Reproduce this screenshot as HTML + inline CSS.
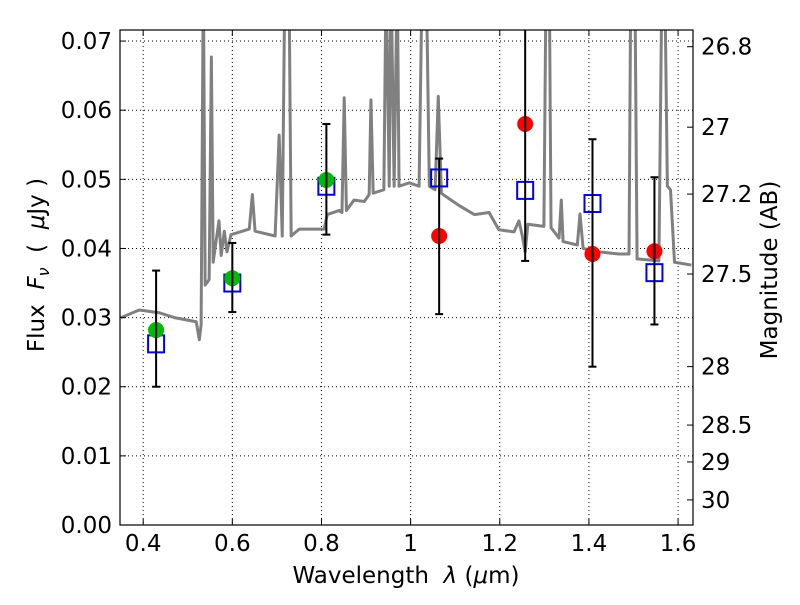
<!DOCTYPE html>
<html><head><meta charset="utf-8"><style>
body{margin:0;background:#fff}
svg text{font-family:"DejaVu Sans","Liberation Sans",sans-serif;fill:#000;white-space:pre}
</style></head><body>
<svg id="chart" width="800" height="600" xmlns="http://www.w3.org/2000/svg"></svg>
<script>
const specLam = [0.350,0.369,0.391,0.436,0.470,0.519,0.526,0.530,0.535,0.539,0.548,0.553,0.557,0.570,0.575,0.582,0.588,0.597,0.638,0.645,0.651,0.696,0.705,0.712,0.718,0.727,0.732,0.750,0.806,0.813,0.840,0.846,0.851,0.856,0.873,0.896,0.907,0.911,0.916,0.940,0.945,0.952,0.956,0.963,0.970,0.974,0.997,1.019,1.026,1.035,1.042,1.055,1.062,1.069,1.075,1.109,1.143,1.176,1.198,1.232,1.243,1.250,1.257,1.263,1.299,1.304,1.311,1.315,1.333,1.338,1.342,1.374,1.380,1.387,1.423,1.467,1.490,1.494,1.503,1.508,1.557,1.564,1.570,1.576,1.583,1.592,1.630];
const specFlux = [0.0300,0.0305,0.0311,0.0307,0.0300,0.0294,0.0268,0.0290,0.0800,0.0347,0.0355,0.0677,0.0380,0.0440,0.0390,0.0425,0.0395,0.0420,0.0428,0.0478,0.0425,0.0418,0.0564,0.0418,0.0800,0.0800,0.0418,0.0428,0.0428,0.0449,0.0455,0.0452,0.0618,0.0455,0.0470,0.0468,0.0478,0.0615,0.0480,0.0485,0.0800,0.0490,0.0800,0.0490,0.0800,0.0490,0.0495,0.0490,0.0800,0.0800,0.0490,0.0485,0.0620,0.0480,0.0477,0.0462,0.0449,0.0452,0.0427,0.0424,0.0440,0.0420,0.0395,0.0435,0.0432,0.0800,0.0800,0.0430,0.0415,0.0470,0.0410,0.0405,0.0450,0.0400,0.0395,0.0392,0.0392,0.0800,0.0800,0.0385,0.0382,0.0800,0.0800,0.0490,0.0485,0.0380,0.0376];
const obsLam = [0.429,0.600,0.811,1.064,1.257,1.408,1.547];
const obsFlux = [0.0282,0.0357,0.0499,0.0418,0.0580,0.0392,0.0396];
const errLo = [0.0200,0.0308,0.0420,0.0305,0.0382,0.0229,0.0290];
const errHi = [0.0368,0.0408,0.0580,0.0530,0.0780,0.0558,0.0503];
const obsColor = ["#00bb00","#00bb00","#00bb00","red","red","red","red"];
const modelFlux = [0.0262,0.0350,0.0490,0.0502,0.0484,0.0465,0.0365];
const xTicks = [0.4,0.6,0.8,1.0,1.2,1.4,1.6];
const xTickLabels = ["0.4","0.6","0.8","1","1.2","1.4","1.6"];
const yTicks = [0,0.01,0.02,0.03,0.04,0.05,0.06,0.07];
const yTickLabels = ["0.00","0.01","0.02","0.03","0.04","0.05","0.06","0.07"];
const magTicks = [26.8,27,27.2,27.5,28,28.5,29,30];
const magTickLabels = ["26.8","27","27.2","27.5","28","28.5","29","30"];

const L=120,R=693,T=30,B=525;
const xmin=0.348,xmax=1.6335,ymin=0,ymax=0.0716;
const sx=v=>L+(v-xmin)/(xmax-xmin)*(R-L);
const sy=v=>B-(v-ymin)/(ymax-ymin)*(B-T);
const magToFlux=m=>Math.pow(10,(23.9-m)/2.5);
const NS="http://www.w3.org/2000/svg";
const svg=document.getElementById('chart');
function mk(tag,attrs,parent){const e=document.createElementNS(NS,tag);for(const k in attrs)e.setAttribute(k,attrs[k]);(parent||svg).appendChild(e);return e;}
const defs=mk('defs',{});
const cp=mk('clipPath',{id:'clip'},defs);
mk('rect',{x:L,y:T,width:R-L,height:B-T},cp);

const grid=mk('g',{});


xTicks.forEach(v=>mk('line',{x1:sx(v),x2:sx(v),y1:T,y2:B,stroke:'#000','stroke-width':1,'stroke-dasharray':'1,3'},grid));
yTicks.forEach(v=>mk('line',{x1:L,x2:R,y1:sy(v),y2:sy(v),stroke:'#000','stroke-width':1,'stroke-dasharray':'1,3'},grid));

const sp=mk('polyline',{points:specLam.map((l,i)=>sx(l)+','+sy(specFlux[i])).join(' '),fill:'none',stroke:'#808080','stroke-width':3,'stroke-linejoin':'round','clip-path':'url(#clip)'});



const mg=mk('g',{'clip-path':'url(#clip)'});


obsLam.forEach((l,i)=>{const r=mk('rect',{x:sx(l)-8,y:sy(modelFlux[i])-8.5,width:16,height:17,fill:'none',stroke:'#0000ee','stroke-width':2},mg);

});

const og=mk('g',{'clip-path':'url(#clip)'});


obsLam.forEach((l,i)=>{const x=sx(l);
mk('circle',{cx:x,cy:sy(obsFlux[i]),r:8,fill:obsColor[i]},og);
mk('line',{x1:x,x2:x,y1:sy(errLo[i]),y2:sy(errHi[i]),stroke:'#000','stroke-width':2},og);
mk('line',{x1:x-4,x2:x+4,y1:sy(errLo[i]),y2:sy(errLo[i]),stroke:'#000','stroke-width':2},og);
mk('line',{x1:x-4,x2:x+4,y1:sy(errHi[i]),y2:sy(errHi[i]),stroke:'#000','stroke-width':2},og);
});

const fr=mk('rect',{x:L,y:T,width:R-L,height:B-T,fill:'none',stroke:'#000','stroke-width':1.2});



xTicks.forEach((v,i)=>{const x=sx(v);
mk('line',{x1:x,x2:x,y1:B,y2:B-6,stroke:'#000'});
mk('line',{x1:x,x2:x,y1:T,y2:T+6,stroke:'#000'});
const t=mk('text',{x:x,y:B+26,'text-anchor':'middle','font-size':23});t.textContent=xTickLabels[i];

});
yTicks.forEach((v,i)=>{const y=sy(v);
mk('line',{x1:L,x2:L+6,y1:y,y2:y,stroke:'#000'});
const t=mk('text',{x:L-8,y:y+8,'text-anchor':'end','font-size':23});t.textContent=yTickLabels[i];

});
magTicks.forEach((m,i)=>{const y=sy(magToFlux(m));
mk('line',{x1:R,x2:R-6,y1:y,y2:y,stroke:'#000'});
const t=mk('text',{x:R+8,y:y+8,'font-size':23});t.textContent=magTickLabels[i];

});

const xl=mk('text',{x:406,y:583,'text-anchor':'middle','font-size':23});
xl.innerHTML='Wavelength\u00a0\u00a0<tspan font-style="italic">λ</tspan>\u00a0(<tspan font-style="italic">μ</tspan>m)';


const yl=mk('text',{x:0,y:0,'text-anchor':'middle','font-size':23,transform:'translate(44,265) rotate(-90)'});
yl.innerHTML='Flux\u00a0\u00a0<tspan font-style="italic">F</tspan><tspan font-style="italic" font-size="16" dy="5">ν</tspan><tspan dy="-5">\u00a0\u00a0(\u00a0\u00a0</tspan><tspan font-style="italic">μ</tspan>Jy\u00a0)';


const rl=mk('text',{x:0,y:0,'text-anchor':'middle','font-size':23,transform:'translate(777,270) rotate(-90)'});
rl.textContent='Magnitude (AB)';


</script>
</body></html>
